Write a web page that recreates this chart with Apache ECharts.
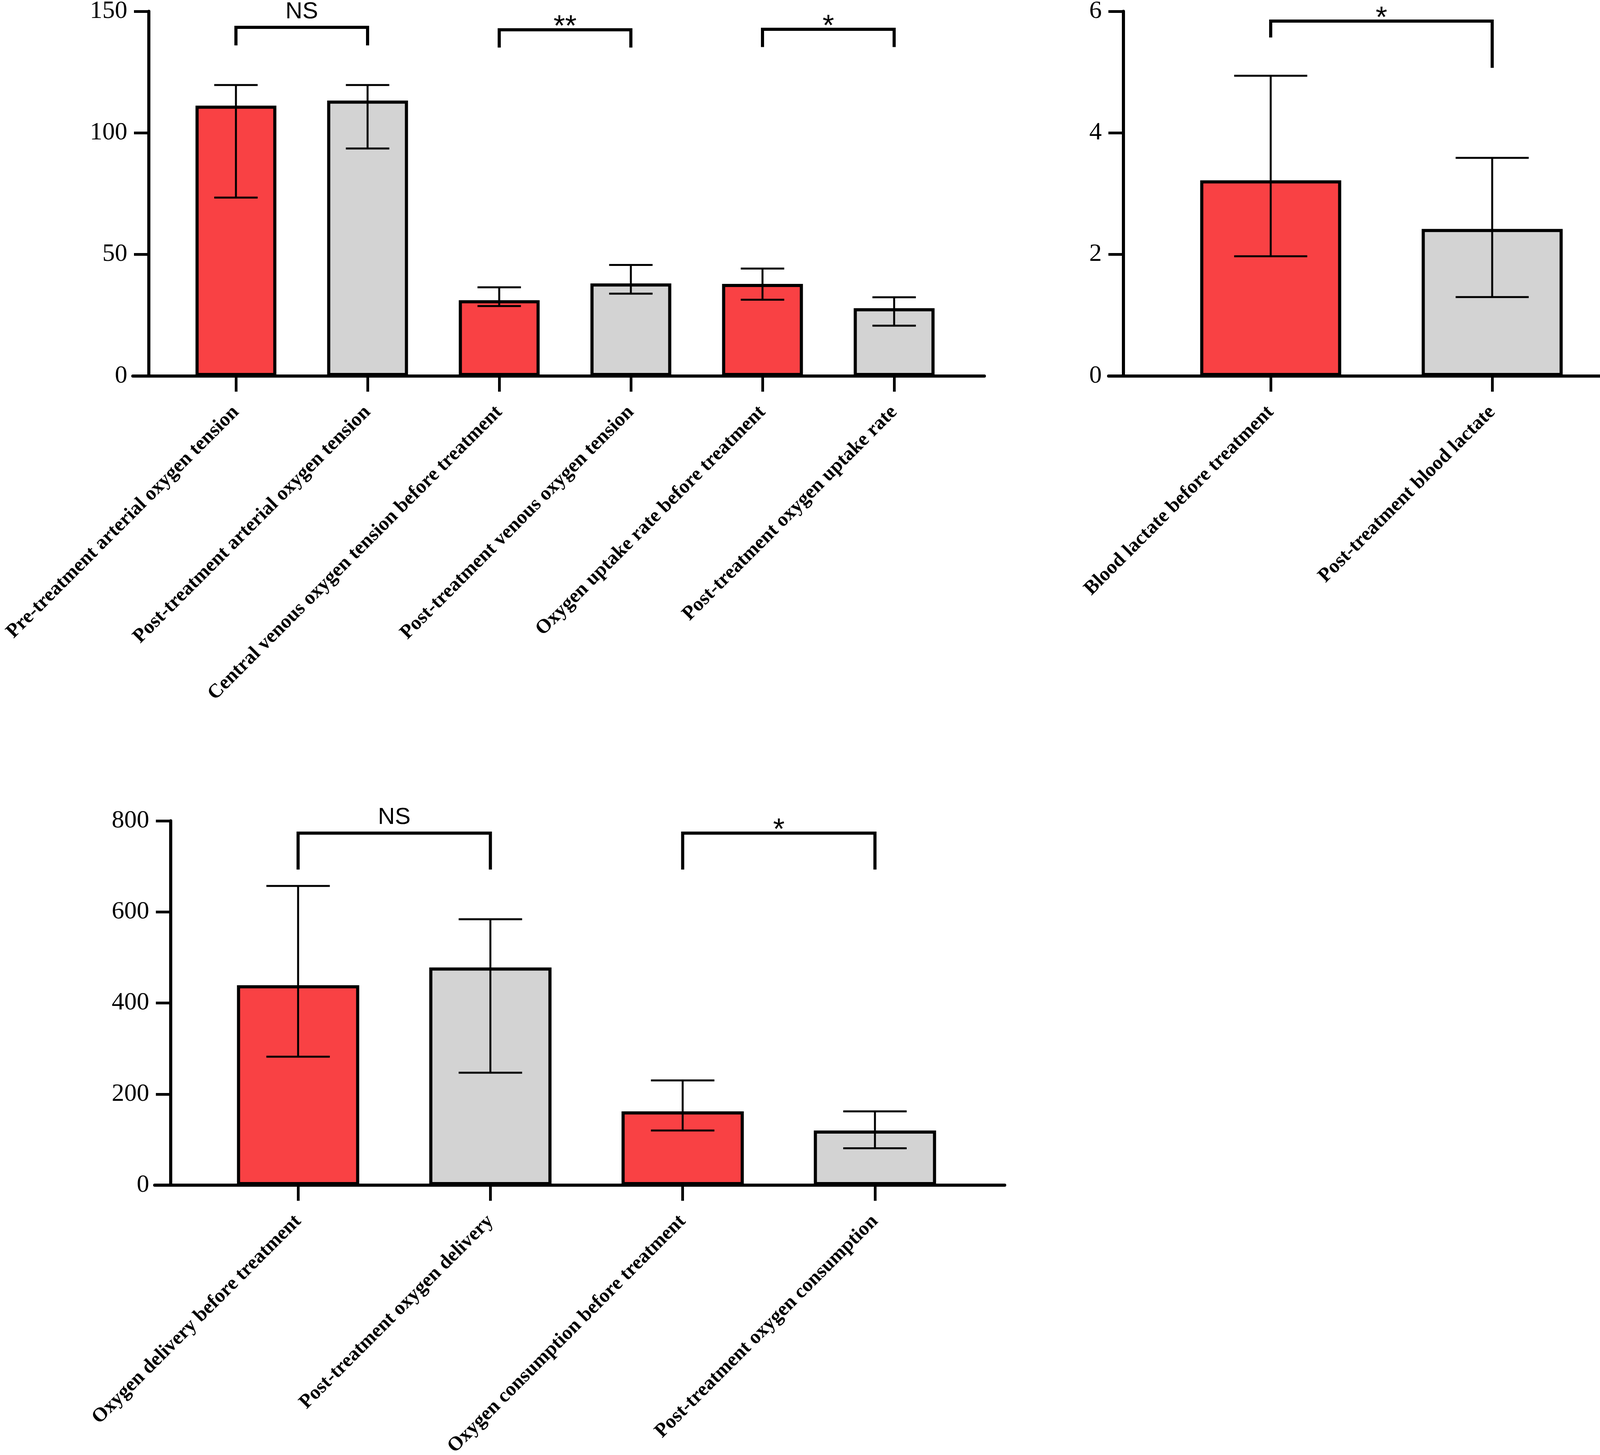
<!DOCTYPE html>
<html><head><meta charset="utf-8">
<script src="https://cdn.jsdelivr.net/npm/echarts@6/dist/echarts.min.js"></script>
<style>html,body{margin:0;padding:0;background:#fff}#c{width:4212px;height:3726px}</style>
</head><body><div id="c"></div>
<script>
// ---------- DATA ----------
// Panel 1 (top left)
const p1Categories = [
  'Pre-treatment arterial oxygen tension',
  'Post-treatment arterial oxygen tension',
  'Central venous oxygen tension before treatment',
  'Post-treatment venous oxygen tension',
  'Oxygen uptake rate before treatment',
  'Post-treatment oxygen uptake rate'
];
const p1Means = [111.2, 113.3, 31.2, 38.1, 37.9, 27.9];
const p1ErrLow = [73.4, 93.6, 28.8, 33.9, 31.4, 20.7];
const p1ErrHigh = [119.7, 119.7, 36.5, 45.7, 44.2, 32.4];
const p1YMin = 0, p1YMax = 150, p1YInterval = 50;
// bracket: [fromIndex, toIndex, topValue, leftLegValue, rightLegValue]
const p1Brackets = [[0, 1, 143.4, 136.0, 136.0], [2, 3, 142.4, 135.1, 135.1], [4, 5, 142.6, 135.3, 135.3]];
const p1BracketLabels = ['NS', '**', '*'];

// Panel 2 (top right)
const p2Categories = ['Blood lactate before treatment', 'Post-treatment blood lactate'];
const p2Means = [3.22, 2.42];
const p2ErrLow = [1.97, 1.30];
const p2ErrHigh = [4.94, 3.59];
const p2YMin = 0, p2YMax = 6, p2YInterval = 2;
const p2Brackets = [[0, 1, 5.84, 5.57, 5.07]];
const p2BracketLabels = ['*'];

// Panel 3 (bottom left)
const p3Categories = [
  'Oxygen delivery before treatment',
  'Post-treatment oxygen delivery',
  'Oxygen consumption before treatment',
  'Post-treatment oxygen consumption'
];
const p3Means = [439, 478, 162, 120];
const p3ErrLow = [282, 247, 120, 81];
const p3ErrHigh = [657, 584, 230, 162];
const p3YMin = 0, p3YMax = 800, p3YInterval = 200;
const p3Brackets = [[0, 1, 773, 693, 693], [2, 3, 773, 693, 693]];
const p3BracketLabels = ['NS', '*'];

// ---------- STYLE / LAYOUT ----------
const RED = '#F94144', GRAY = '#D3D3D3', BLACK = '#000';
const SERIF = '"Liberation Serif", "Times New Roman", serif';
const SANS = '"Liberation Sans", Arial, sans-serif';

const panels = [
  { cats: p1Categories, means: p1Means, lo: p1ErrLow, hi: p1ErrHigh, yMin: p1YMin, yMax: p1YMax, yInt: p1YInterval,
    br: p1Brackets, brL: p1BracketLabels,
    lineLeft: 340, lineRight: 2520, yAxisX: 381, barsLeft: 435.5, barsWidth: 2022, top: 29, height: 934, barW: 207 },
  { cats: p2Categories, means: p2Means, lo: p2ErrLow, hi: p2ErrHigh, yMin: p2YMin, yMax: p2YMax, yInt: p2YInterval,
    br: p2Brackets, brL: p2BracketLabels,
    lineLeft: 2838, lineRight: 4199, yAxisX: 2875.5, barsLeft: 2969.5, barsWidth: 1134, top: 29, height: 934, barW: 361 },
  { cats: p3Categories, means: p3Means, lo: p3ErrLow, hi: p3ErrHigh, yMin: p3YMin, yMax: p3YMax, yInt: p3YInterval,
    br: p3Brackets, brL: p3BracketLabels,
    lineLeft: 396, lineRight: 2572, yAxisX: 437, barsLeft: 517, barsWidth: 1969, top: 2102, height: 933, barW: 313 }
];

function errRender(params, api) {
  const i = api.value(0);
  const lo = api.coord([i, api.value(1)]);
  const hi = api.coord([i, api.value(2)]);
  const hw = api.size([1, 0])[0] * 0.165;
  const st = { stroke: BLACK, lineWidth: 5 };
  return { type: 'group', children: [
    { type: 'line', shape: { x1: lo[0], y1: lo[1], x2: hi[0], y2: hi[1] }, style: st },
    { type: 'line', shape: { x1: lo[0] - hw, y1: lo[1], x2: lo[0] + hw, y2: lo[1] }, style: st },
    { type: 'line', shape: { x1: hi[0] - hw, y1: hi[1], x2: hi[0] + hw, y2: hi[1] }, style: st }
  ]};
}

function makeBracketRender(labels) {
  return function (params, api) {
    const a = api.value(0), b = api.value(1);
    const top = api.value(2), l = api.value(3), r = api.value(4);
    const q1 = api.coord([a, l]), q2 = api.coord([a, top]), q3 = api.coord([b, top]), q4 = api.coord([b, r]);
    const txt = labels[params.dataIndex];
    const star = txt.indexOf('*') >= 0;
    return { type: 'group', children: [
      { type: 'polyline', shape: { points: [q1, q2, q3, q4] },
        style: { stroke: BLACK, lineWidth: 8, fill: null, lineJoin: 'miter', lineCap: 'butt' } },
      { type: 'text', x: (q2[0] + q3[0]) / 2, y: q2[1] - (star ? 6 : 40),
        style: { text: txt, fontFamily: SANS, fontSize: star ? 76 : 60, fill: BLACK, align: 'center', verticalAlign: 'middle' } }
    ]};
  };
}

const grid = [], xAxis = [], yAxis = [], series = [];
panels.forEach((p) => {
  const ga = grid.length;
  grid.push({ left: p.lineLeft, width: p.lineRight - p.lineLeft, top: p.top, height: p.height, outerBoundsMode: 'none' });
  const gb = grid.length;
  grid.push({ left: p.barsLeft, width: p.barsWidth, top: p.top, height: p.height, outerBoundsMode: 'none' });

  // frame axis (x line spanning full width)
  xAxis.push({ gridIndex: ga, type: 'value', min: 0, max: 1,
    axisLine: { show: true, lineStyle: { color: BLACK, width: 8 } },
    axisTick: { show: false }, axisLabel: { show: false }, splitLine: { show: false } });
  yAxis.push({ gridIndex: ga, type: 'value', min: 0, max: 1, show: false });

  // category axis for bars
  xAxis.push({ gridIndex: gb, type: 'category', data: p.cats, boundaryGap: true,
    axisLine: { show: true, lineStyle: { color: BLACK, width: 8 } },
    axisTick: { show: true, alignWithLabel: true, length: 40, lineStyle: { color: BLACK, width: 7 } },
    axisLabel: { interval: 0, rotate: 45, margin: 85, fontFamily: SERIF, fontWeight: 'bold', fontSize: 51, color: BLACK },
    splitLine: { show: false } });
  yAxis.push({ gridIndex: gb, type: 'value', min: p.yMin, max: p.yMax, interval: p.yInt,
    offset: p.barsLeft - p.yAxisX,
    axisLine: { show: true, lineStyle: { color: BLACK, width: 8 } },
    axisTick: { show: true, length: 38, lineStyle: { color: BLACK, width: 7 } },
    axisLabel: { margin: 55, fontFamily: SERIF, fontSize: 64, color: BLACK },
    splitLine: { show: false } });

  series.push({ type: 'bar', xAxisIndex: gb, yAxisIndex: gb, data: p.means, barWidth: p.barW, z: 2,
    itemStyle: { color: (d) => (d.dataIndex % 2 ? GRAY : RED), borderColor: BLACK, borderWidth: 8 } });
  series.push({ type: 'custom', xAxisIndex: gb, yAxisIndex: gb, z: 3, clip: false,
    data: p.cats.map((_, i) => [i, p.lo[i], p.hi[i]]), renderItem: errRender });
  series.push({ type: 'custom', xAxisIndex: gb, yAxisIndex: gb, z: 3, clip: false,
    data: p.br.map(b => b.slice()), renderItem: makeBracketRender(p.brL) });
});

const chart = echarts.init(document.getElementById('c'), null, { renderer: 'canvas' });
chart.setOption({ animation: false, backgroundColor: '#fff', grid, xAxis, yAxis, series, tooltip: { show: false } });
</script>
</body></html>
